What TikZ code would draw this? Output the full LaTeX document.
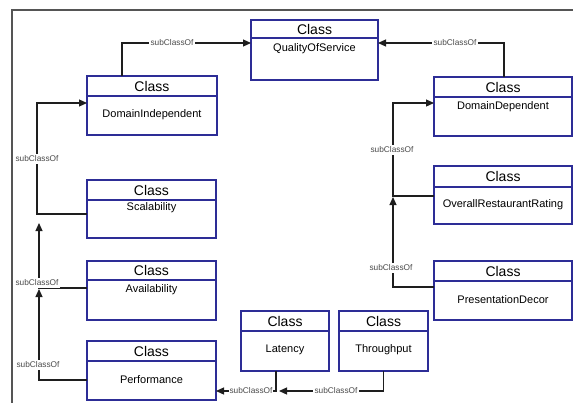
\documentclass[tikz,border=0pt]{standalone}
\usepackage{fontspec}
\setmainfont{Liberation Sans}
\usetikzlibrary{arrows.meta}
\definecolor{boxblue}{RGB}{45,45,150}
\definecolor{conngray}{RGB}{30,30,30}
\definecolor{framegray}{RGB}{85,85,85}
\tikzset{
  box/.style={draw=boxblue, line width=1.3pt, rectangle, inner sep=0pt, outer sep=0pt, fill=white},
  boxline/.style={draw=boxblue, line width=1.3pt},
  classlbl/.style={inner sep=0pt, font=\fontsize{14}{16}\selectfont},
  namelbl/.style={inner sep=0pt, font=\fontsize{11}{13}\selectfont},
  conn/.style={draw=conngray, line width=1.2pt, -{Triangle[length=8pt,width=7pt]}},
  plain/.style={draw=conngray, line width=1.2pt},
  lbl/.style={fill=white, inner sep=2pt, font=\fontsize{8.3}{10}\selectfont, text=conngray!80}
}
\newcommand\umlbox[8]{%
  \node[box, anchor=north west, minimum width=#4pt-#2pt, minimum height=#5pt-#3pt] (#1) at (#2,#3) {};
  \draw[boxline] (#2,#6) -- (#4,#6);
  \node[classlbl] (#1-h) at ({(#2+#4)/2},{(#3+#6)/2}) {Class};
  \node[namelbl] (#1-n) at ({(#2+#4)/2},#8) {#7};
}
\begin{document}
\begin{tikzpicture}[x=1pt,y=-1pt]
\useasboundingbox (0,0) rectangle (573,402);
\draw[framegray, line width=2pt] (574,10) -- (12,10) -- (12,403);

% boxes
\umlbox{qos}{251}{20}{378}{80}{38}{QualityOfService}{49}
\umlbox{di}{87}{76}{217}{135}{96}{DomainIndependent}{115}
\umlbox{dd}{434}{77}{572}{136}{97}{DomainDependent}{107}
\umlbox{scal}{87}{180}{216}{238}{200}{Scalability}{208}
\umlbox{avail}{87}{261}{216}{320}{280}{Availability}{290}
\umlbox{perf}{87}{341}{216}{400}{361}{Performance}{380}
\umlbox{lat}{241}{311}{329}{371}{331}{Latency}{350}
\umlbox{thr}{339}{311}{428}{371}{331}{Throughput}{350}
\umlbox{orr}{434}{166}{572}{224}{187}{OverallRestaurantRating}{205}
\umlbox{pd}{434}{261}{572}{320}{281}{PresentationDecor}{300}

% free ends
\coordinate (availend) at (39,223);
\coordinate (perfend) at (39,289);
\coordinate (pdend) at (393,197);
\coordinate (thrend) at (279,391);

% connectors
\draw[conn] ([xshift=35pt]di.north west) |- ([yshift=-23pt]qos.north west);
\draw[conn] ([xshift=70pt]dd.north west) |- ([yshift=-23pt]qos.north east);
\draw[conn] ([yshift=-34pt]scal.north west) -- ++(-50,0) |- ([yshift=-27pt]di.north west);
\draw[conn] ([yshift=-27pt]avail.north west) -| (availend);
\draw[conn] ([yshift=-39pt]perf.north west) -| (perfend);
\draw[conn] ([yshift=-30pt]orr.north west) -- ++(-41,0) |- ([yshift=-26pt]dd.north west);
\draw[conn] ([yshift=-26pt]pd.north west) -| (pdend);
\draw[conn] ([xshift=-9pt]lat.south) |- ([yshift=9pt]perf.south east);
\draw[conn] (thr.south) |- (thrend);

% labels
\node[lbl] (l1) at (172,43) {subClassOf};
\node[lbl] (l2) at (455,43) {subClassOf};
\node[lbl] (l3) at (37,159) {subClassOf};
\node[lbl] (l4) at (37,283) {subClassOf};
\node[lbl] (l5) at (38,365) {subClassOf};
\node[lbl] (l6) at (392,150) {subClassOf};
\node[lbl] (l7) at (391,268) {subClassOf};
\node[lbl, inner xsep=1pt] (l8) at (251,391) {subClassOf};
\node[lbl] (l9) at (336,391) {subClassOf};
\end{tikzpicture}
\end{document}
